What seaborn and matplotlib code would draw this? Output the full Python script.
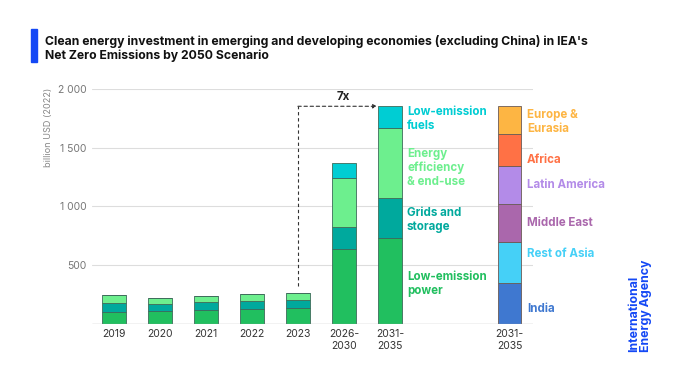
import matplotlib
matplotlib.use("Agg")
import matplotlib.pyplot as plt
from matplotlib.patches import Rectangle
import numpy as np
import seaborn as sns

# data (billion USD, 2022)
periods = ["2019", "2020", "2021", "2022", "2023", "2026-\n2030", "2031-\n2035"]
power = [100, 108, 117, 125, 134, 636, 729]
grids = [79, 62, 68, 71, 70, 190, 341]
efficiency = [68, 54, 53, 59, 62, 417, 601]
fuels = [0, 0, 0, 0, 0, 124, 182]

sector_names = ["Low-emission\npower", "Grids and\nstorage", "Energy\nefficiency\n& end-use", "Low-emission\nfuels"]
sector_colors = ["#21BF5F", "#00A99D", "#6DEF8E", "#00CDD3"]

regions = ["India", "Rest of Asia", "Middle East", "Latin America", "Africa", "Europe &\nEurasia"]
region_values = [346, 352, 321, 328, 267, 239]
region_colors = ["#3F78D0", "#45D0F7", "#AA67AC", "#B38BE8", "#FF7145", "#FDB543"]
region_label = "2031-\n2035"

sns.set_theme(style="white")
plt.rcParams["font.family"] = ["Inter", "DejaVu Sans"]

fig = plt.figure(figsize=(6.8, 3.82), dpi=100)
ax = fig.add_axes([0.135, 0.152, 0.649, 0.615])

x = np.arange(len(periods))
x_region = 8.6
width = 0.51

bottom = np.zeros(len(periods))
for vals, col in zip([power, grids, efficiency, fuels], sector_colors):
    vals = np.array(vals, dtype=float)
    ax.bar(x, vals, width, bottom=bottom, color=col, edgecolor="#3d6b5a", linewidth=0.6, zorder=3)
    bottom += vals

rb = 0.0
for v, col in zip(region_values, region_colors):
    ax.bar(x_region, v, width, bottom=rb, color=col, edgecolor="#6a5a55", linewidth=0.6, zorder=3)
    rb += v

# sector labels beside the 2031-2035 bar
last = len(periods) - 1
cum = np.cumsum([power[last], grids[last], efficiency[last], fuels[last]])
sector_label_y = [340, 885, 1328, 1745]
for name, col, yy in zip(sector_names, sector_colors, sector_label_y):
    ax.text(6.37, yy, name, color=col, fontsize=8.3, fontweight="bold", va="center", ha="left",
            linespacing=1.15)

region_label_y = [128, 596, 860, 1187, 1396, 1719]
for name, col, yy in zip(regions, region_colors, region_label_y):
    ax.text(8.98, yy, name, color=col, fontsize=8.3, fontweight="bold", va="center", ha="left",
            linespacing=1.15)

# 7x dashed arrow
top_now = power[4] + grids[4] + efficiency[4] + fuels[4]
top_future = cum[-1]
ax.plot([4, 4], [top_now + 60, top_future], color="#333333", lw=0.8, ls=(0, (3, 2.5)), zorder=4)
ax.annotate("", xy=(5.72, top_future), xytext=(4, top_future),
            arrowprops=dict(arrowstyle="-|>", color="#333333", lw=0.8, ls=(0, (3, 2.5)),
                            shrinkA=0, shrinkB=0, mutation_scale=6), zorder=4)
ax.text(4.98, 1935, "7x", fontsize=8.3, fontweight="bold", ha="center", va="center", color="#222222")

ax.set_xlim(-0.478, 9.11)
ax.set_ylim(0, 2000)
ax.set_xticks(list(x) + [x_region])
ax.set_xticklabels(periods + [region_label], fontsize=7.5, color="#333333", linespacing=1.15)
ax.set_yticks([500, 1000, 1500, 2000])
ax.set_yticklabels(["500", "1 000", "1 500", "2 000"], fontsize=7.5, color="#777777")
ax.tick_params(axis="both", length=0, pad=4)
ax.grid(axis="y", color="#dddddd", linewidth=0.8, zorder=0)
for s in ax.spines.values():
    s.set_visible(False)
ax.axhline(0, color="#999999", linewidth=0.9, zorder=5)

fig.text(48 / 680, 1 - 88 / 382, "billion USD (2022)", rotation=90, ha="center", va="top",
         fontsize=6.6, color="#888888")

# title with blue marker
fig.patches.append(Rectangle((31 / 680, 1 - 62 / 382), 6 / 680, 33 / 382, transform=fig.transFigure,
                             color="#1448F5", figure=fig))
fig.text(45 / 680, 1 - 35 / 382,
         "Clean energy investment in emerging and developing economies (excluding China) in IEA's\n"
         "Net Zero Emissions by 2050 Scenario",
         ha="left", va="top", fontsize=8.8, fontweight="bold", color="#111111", linespacing=1.2)

fig.text(640 / 680, 1 - 352 / 382, "International\nEnergy Agency", rotation=90, ha="center", va="bottom",
         fontsize=8.9, fontweight="bold", color="#1448F5", multialignment="left", linespacing=1.05)

fig.savefig("out.png", dpi=100)
